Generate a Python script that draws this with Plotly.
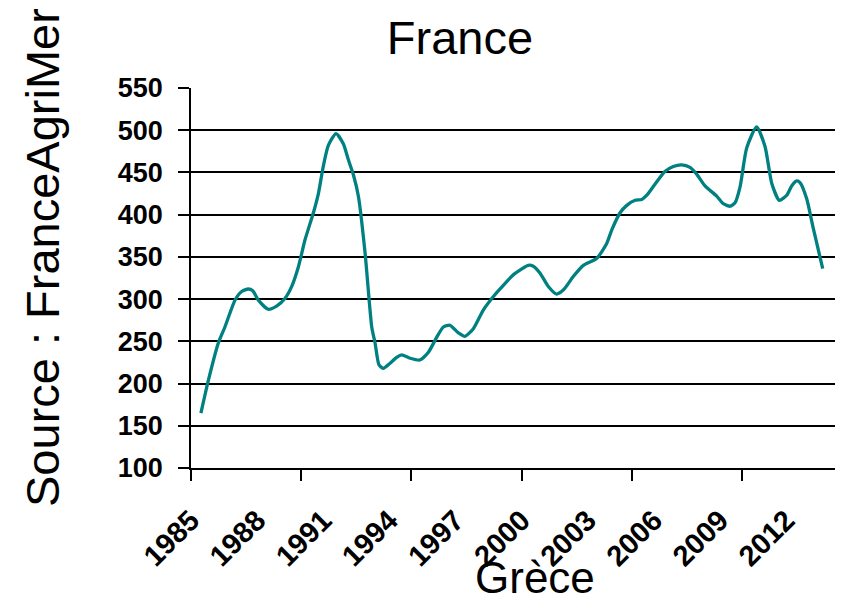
import plotly.graph_objects as go

years = [1985.45, 1985.79, 1986.24, 1986.54, 1987.0, 1987.3, 1987.6, 1987.8, 1988.05, 1988.5,
         1988.9, 1989.27, 1989.57, 1989.87, 1990.17, 1990.55, 1990.78, 1991.0, 1991.23, 1991.58,
         1991.91, 1992.14, 1992.37, 1992.6, 1992.9, 1993.2, 1993.35, 1993.53, 1993.73, 1994.03,
         1994.33, 1994.56, 1994.94, 1995.39, 1995.77, 1996.15, 1996.45, 1996.75, 1997.13, 1997.43,
         1997.81, 1998.26, 1998.72, 1999.02, 1999.63, 2000.3, 2000.53, 2000.83, 2001.21, 2001.59,
         2001.9, 2002.35, 2002.8, 2003.4, 2003.86, 2004.09, 2004.46, 2004.77, 2005.15, 2005.45,
         2005.68, 2006.05, 2006.5, 2006.88, 2007.26, 2007.64, 2007.94, 2008.32, 2008.85, 2009.15,
         2009.46, 2009.68, 2009.91, 2010.21, 2010.66, 2011.04, 2011.35, 2011.69, 2012.03, 2012.25,
         2012.48, 2012.63, 2012.93, 2013.23, 2013.66]
values = [165, 204, 248, 267, 299, 309, 312, 310, 299, 288,
          292, 301, 315, 338, 370, 402, 425, 457, 482, 496,
          484, 465, 447, 421, 354, 267, 248, 222, 218, 224,
          231, 234, 230, 228, 237, 255, 267, 269, 260, 256,
          265, 287, 303, 312, 329, 340, 339, 331, 315, 306,
          311, 327, 340, 348, 366, 382, 402, 411, 417, 418,
          423, 436, 451, 457, 459, 456, 448, 434, 422, 413,
          410, 414, 433, 479, 504, 481, 437, 417, 423, 434,
          440, 438, 419, 384, 336]

tick_years = [1985, 1988, 1991, 1994, 1997, 2000, 2003, 2006, 2009, 2012]
tick_labels = [str(y) for y in tick_years]
mark_years = [1985, 1990, 1995, 2000, 2005, 2010]

font = "Liberation Sans, Arial, sans-serif"

W, H = 835, 593
L, T, B = 183, 80, 133
PW, PH = W - L, H - T - B

fig = go.Figure()
fig.add_trace(go.Scatter(x=years, y=values, mode="lines",
                         line=dict(color="#008080", width=3.3, shape="spline", smoothing=0.6),
                         showlegend=False, hoverinfo="skip"))

fig.update_layout(
    width=W, height=H,
    margin=dict(l=L, r=0, t=T, b=B, pad=0),
    paper_bgcolor="white", plot_bgcolor="white",
    font=dict(family=font, color="black"),
    title=dict(text="France", x=452/W, xref="container", xanchor="center",
               y=1-30/H, yref="container", yanchor="middle",
               font=dict(size=47, family=font, color="black")),
    xaxis=dict(range=[1985, 2014.58], tickmode="array", tickvals=tick_years, ticktext=tick_labels,
               tickangle=-45, ticks="", showgrid=False, zeroline=False,
               showline=True, linecolor="black", linewidth=1.5,
               tickfont=dict(size=29, family=font, weight="bold", color="black"),
               ticklabelstandoff=22,
               minor=dict(tickmode="array", tickvals=mark_years, ticks="outside",
                          ticklen=11, tickcolor="black", tickwidth=1.5, showgrid=False)),
    yaxis=dict(range=[100, 550], tickmode="linear", tick0=100, dtick=50,
               ticks="outside", ticklen=11, tickcolor="black", tickwidth=1.5,
               showgrid=True, gridcolor="black", gridwidth=1.5, zeroline=False,
               showline=True, linecolor="black", linewidth=1.5,
               tickfont=dict(size=27, family=font, weight="bold", color="black"),
               ticklabelstandoff=10),
    annotations=[
        dict(text="Source : FranceAgriMer", textangle=-90, xref="paper", yref="paper",
             x=-(L-35)/PW, y=(H-B-250)/PH, xanchor="center", yanchor="middle",
             showarrow=False, font=dict(size=47, family=font, color="black")),
        dict(text="Grèce", xref="paper", yref="paper",
             x=(527-L)/PW, y=-(569-(H-B))/PH, xanchor="center", yanchor="middle",
             showarrow=False, font=dict(size=44, family=font, color="black")),
    ],
)

fig.write_html("out.html")
